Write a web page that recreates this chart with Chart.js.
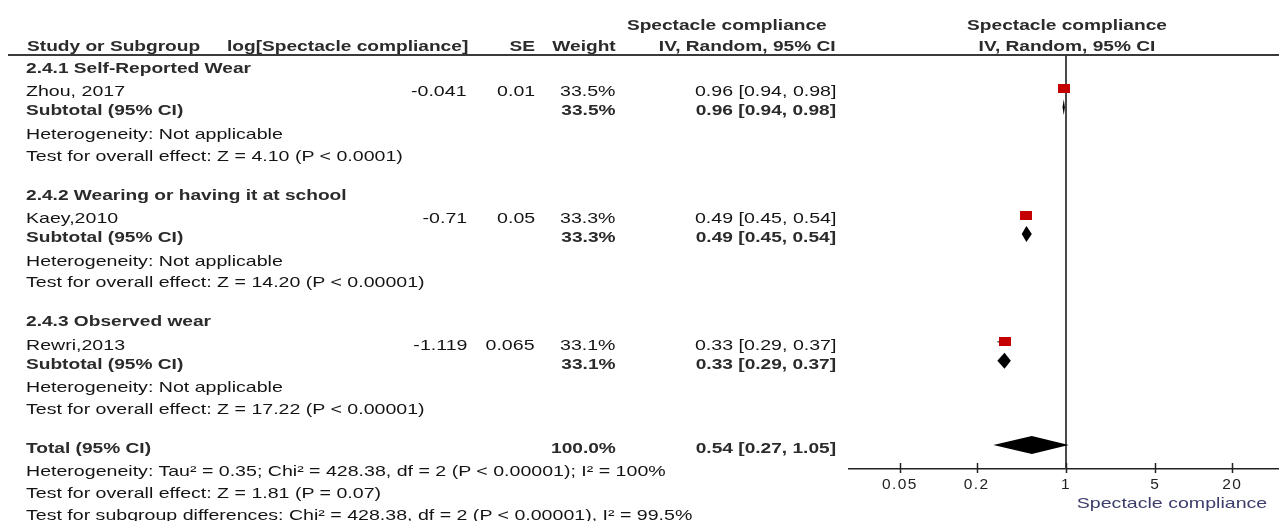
<!DOCTYPE html>
<html>
<head>
<meta charset="utf-8">
<title>Spectacle compliance forest plot</title>
<script src="https://cdn.jsdelivr.net/npm/chart.js@4.4.1/dist/chart.umd.min.js"></script>
<style>
  html, body { margin: 0; padding: 0; background: #fff; }
  body {
    width: 1279px; height: 521px; overflow: hidden; position: relative;
    font-family: "Liberation Sans", Arial, sans-serif; font-size: 15px; color: #141414;
  }
  #plot { position: absolute; left: 0; top: 0; width: 1290px; height: 521px; }
  #txt { position: absolute; left: 0; top: 0; width: 1279px; height: 521px; }
  .t { position: absolute; white-space: nowrap; line-height: 1; }
  .b { font-weight: bold; color: #2b2b2b; }
  .axis-title { color: #3c3c6a; }
  .rule { position: absolute; left: 8px; width: 1271px; top: 54px; height: 2px; background: #3a3a3a; }
</style>
</head>
<body>
<div id="plot"><canvas id="c"></canvas></div>
<div class="rule"></div>
<div id="txt"></div>
<script>
// ---- study data ----
const GROUPS = ['2.4.1 Self-Reported Wear', '2.4.2 Wearing or having it at school', '2.4.3 Observed wear'];
const STUDIES = ['Zhou, 2017', 'Kaey,2010', 'Rewri,2013'];
const LOG_EFFECT = ['-0.041', '-0.71', '-1.119'];
const SE = ['0.01', '0.05', '0.065'];
const WEIGHT = [33.5, 33.3, 33.1];
const EST = [0.96, 0.49, 0.33];
const CI_LO = [0.94, 0.45, 0.29];
const CI_HI = [0.98, 0.54, 0.37];

// ---- subgroup pooled results ----
const SUB_WEIGHT = [33.5, 33.3, 33.1];
const SUB_EST = [0.96, 0.49, 0.33];
const SUB_LO = [0.94, 0.45, 0.29];
const SUB_HI = [0.98, 0.54, 0.37];
const SUB_HET = ['Heterogeneity: Not applicable', 'Heterogeneity: Not applicable', 'Heterogeneity: Not applicable'];
const SUB_TEST = [
  'Test for overall effect: Z = 4.10 (P < 0.0001)',
  'Test for overall effect: Z = 14.20 (P < 0.00001)',
  'Test for overall effect: Z = 17.22 (P < 0.00001)'
];

// ---- overall pooled result ----
const TOTAL_WEIGHT = 100.0;
const TOTAL_EST = 0.54;
const TOTAL_LO = 0.27;
const TOTAL_HI = 1.05;
const TOTAL_NOTES = [
  'Heterogeneity: Tau\u00b2 = 0.35; Chi\u00b2 = 428.38, df = 2 (P < 0.00001); I\u00b2 = 100%',
  'Test for overall effect: Z = 1.81 (P = 0.07)',
  'Test for subgroup differences: Chi\u00b2 = 428.38, df = 2 (P < 0.00001), I\u00b2 = 99.5%'
];

// ---- axis ----
const TICKS = [0.05, 0.2, 1, 5, 20];
const TICK_LABELS = ['0.05', '0.2', '1', '5', '20'];
const AXIS_MIN = 0.02, AXIS_MAX = 50;
const NULL_EFFECT = 1;

// ---- row layout (in line units) ----
const GAP = { afterGroup: 1.08, afterStudy: 0.87, afterSubtotal: 1.08, afterHet: 1.0, afterTest: 1.8, afterTotal: 1.06, note: 1.0 };
const Y_MIN = -0.41, Y_MAX = 18.59;
const TEXT_DY = 2;
const STRETCH_REGULAR = 1.305, STRETCH_BOLD = 1.275;
const COL = { name: 26, log: 467, se: 535, weight: 616, ci: 836 };

const rows = { group: [], study: [], sub: [], het: [], test: [], total: 0, notes: [] };
let yPos = 0;
for (let g = 0; g < GROUPS.length; g++) {
  rows.group.push(yPos); yPos += GAP.afterGroup;
  rows.study.push(yPos); yPos += GAP.afterStudy;
  rows.sub.push(yPos);   yPos += GAP.afterSubtotal;
  rows.het.push(yPos);   yPos += GAP.afterHet;
  rows.test.push(yPos);  yPos += GAP.afterTest;
}
rows.total = yPos; yPos += GAP.afterTotal;
for (let i = 0; i < TOTAL_NOTES.length; i++) { rows.notes.push(yPos); yPos += GAP.note; }

const fmt = v => v.toFixed(2);
const ciText = (e, l, h) => `${fmt(e)} [${fmt(l)}, ${fmt(h)}]`;

// red study marker
const marker = document.createElement('canvas');
marker.width = 12; marker.height = 9;
(function () { const m = marker.getContext('2d'); m.fillStyle = '#c40000'; m.fillRect(0, 0, 12, 9); })();

// pooled diamonds drawn through the chart scales
const diamonds = SUB_EST.map((e, i) => ({ est: e, lo: SUB_LO[i], hi: SUB_HI[i], y: rows.sub[i], half: 8 }))
  .concat([{ est: TOTAL_EST, lo: TOTAL_LO, hi: TOTAL_HI, y: rows.total, half: 9 }]);

const forestPlugin = {
  id: 'forest',
  beforeDraw(chart) {
    // wider tick lettering to sit with the table text
    if ('letterSpacing' in chart.ctx) chart.ctx.letterSpacing = '1.4px';
  },
  afterDatasetsDraw(chart) {
    const { ctx, scales: { x, y } } = chart;
    ctx.save();
    ctx.fillStyle = '#000';
    diamonds.forEach(d => {
      const xl = x.getPixelForValue(d.lo), xm = x.getPixelForValue(d.est), xh = x.getPixelForValue(d.hi);
      const ym = y.getPixelForValue(d.y);
      ctx.beginPath();
      ctx.moveTo(xl, ym); ctx.lineTo(xm, ym - d.half); ctx.lineTo(xh, ym); ctx.lineTo(xm, ym + d.half);
      ctx.closePath(); ctx.fill();
    });
    ctx.restore();
  },
  afterDraw(chart) {
    const { ctx, scales: { x }, chartArea } = chart;
    ctx.save();
    ctx.strokeStyle = '#222'; ctx.lineWidth = 1.5;
    TICKS.forEach(v => {
      const px = Math.round(x.getPixelForValue(v)) + 0.5;
      ctx.beginPath(); ctx.moveTo(px, chartArea.bottom - 6); ctx.lineTo(px, chartArea.bottom + 4); ctx.stroke();
    });
    ctx.restore();
  }
};

const datasets = [
  { // study point estimates
    type: 'scatter',
    data: EST.map((e, i) => ({ x: e, y: rows.study[i] })),
    pointStyle: marker, pointRadius: 6
  }
].concat(EST.map((e, i) => ({ // confidence interval whiskers
  type: 'line',
  data: [{ x: CI_LO[i], y: rows.study[i] }, { x: CI_HI[i], y: rows.study[i] }],
  borderColor: '#000', borderWidth: 1, pointRadius: 0
}))).concat([{ // line of no effect
  type: 'line',
  data: [{ x: NULL_EFFECT, y: Y_MIN }, { x: NULL_EFFECT, y: Y_MAX }],
  borderColor: '#4a4a4a', borderWidth: 2, pointRadius: 0
}]);

const chart = new Chart(document.getElementById('c'), {
  type: 'scatter',
  data: { datasets },
  options: {
    responsive: true, maintainAspectRatio: false, animation: false,
    layout: { padding: { left: 849, right: 5, top: 56, bottom: 0 } },
    plugins: { legend: { display: false }, tooltip: { enabled: false } },
    scales: {
      x: {
        type: 'logarithmic', min: AXIS_MIN, max: AXIS_MAX, position: 'bottom',
        afterBuildTicks: s => { s.ticks = TICKS.map(v => ({ value: v })); },
        afterFit: s => { s.height = 52; },
        grid: { display: false, drawTicks: false },
        border: { display: true, color: '#222', width: 1.5 },
        ticks: {
          color: '#222', padding: 6, autoSkip: false, maxRotation: 0,
          font: { family: 'Liberation Sans', size: 15.5 },
          callback: (v, i) => TICK_LABELS[i]
        }
      },
      y: { type: 'linear', min: Y_MIN, max: Y_MAX, reverse: true, display: false }
    }
  },
  plugins: [forestPlugin]
});

// ---- table text ----
const txt = document.getElementById('txt');
function put(s, x, y, align, cls) {
  const el = document.createElement('div');
  el.className = 't' + (cls ? ' ' + cls : '');
  el.textContent = s;
  el.style.top = y + 'px';
  const sx = ` scaleX(${cls === 'b' ? STRETCH_BOLD : STRETCH_REGULAR})`;
  if (align === 'right') {
    el.style.right = (1279 - x) + 'px';
    el.style.transformOrigin = '100% 50%';
    el.style.transform = 'translateY(-50%)' + sx;
  } else if (align === 'center') {
    el.style.left = x + 'px';
    el.style.transformOrigin = '50% 50%';
    el.style.transform = 'translate(-50%, -50%)' + sx;
  } else {
    el.style.left = x + 'px';
    el.style.transformOrigin = '0 50%';
    el.style.transform = 'translateY(-50%)' + sx;
  }
  txt.appendChild(el);
}

const ys = chart.scales.y, xs = chart.scales.x;
const py = v => ys.getPixelForValue(v) + TEXT_DY;
const plotCentre = xs.getPixelForValue(NULL_EFFECT);

put('Spectacle compliance', 827, 24, 'right', 'b');
put('Spectacle compliance', plotCentre + 1, 24, 'center', 'b');
put('Study or Subgroup', 27, 45, 'left', 'b');
put('log[Spectacle compliance]', 227, 45, 'left', 'b');
put('SE', COL.se, 45, 'right', 'b');
put('Weight', COL.weight, 45, 'right', 'b');
put('IV, Random, 95% CI', COL.ci, 45, 'right', 'b');
put('IV, Random, 95% CI', plotCentre + 1, 45, 'center', 'b');

for (let g = 0; g < GROUPS.length; g++) {
  put(GROUPS[g], COL.name, py(rows.group[g]), 'left', 'b');
  put(STUDIES[g], COL.name, py(rows.study[g]), 'left');
  put(LOG_EFFECT[g], COL.log, py(rows.study[g]), 'right');
  put(SE[g], COL.se, py(rows.study[g]), 'right');
  put(WEIGHT[g].toFixed(1) + '%', COL.weight, py(rows.study[g]), 'right');
  put(ciText(EST[g], CI_LO[g], CI_HI[g]), COL.ci, py(rows.study[g]), 'right');
  put('Subtotal (95% CI)', COL.name, py(rows.sub[g]), 'left', 'b');
  put(SUB_WEIGHT[g].toFixed(1) + '%', COL.weight, py(rows.sub[g]), 'right', 'b');
  put(ciText(SUB_EST[g], SUB_LO[g], SUB_HI[g]), COL.ci, py(rows.sub[g]), 'right', 'b');
  put(SUB_HET[g], COL.name, py(rows.het[g]), 'left');
  put(SUB_TEST[g], COL.name, py(rows.test[g]), 'left');
}
put('Total (95% CI)', COL.name, py(rows.total), 'left', 'b');
put(TOTAL_WEIGHT.toFixed(1) + '%', COL.weight, py(rows.total), 'right', 'b');
put(ciText(TOTAL_EST, TOTAL_LO, TOTAL_HI), COL.ci, py(rows.total), 'right', 'b');
TOTAL_NOTES.forEach((s, i) => put(s, COL.name, py(rows.notes[i]), 'left'));

put('Spectacle compliance', (plotCentre + chart.chartArea.right) / 2 - 3, 502, 'center', 'axis-title');
</script>
</body>
</html>
